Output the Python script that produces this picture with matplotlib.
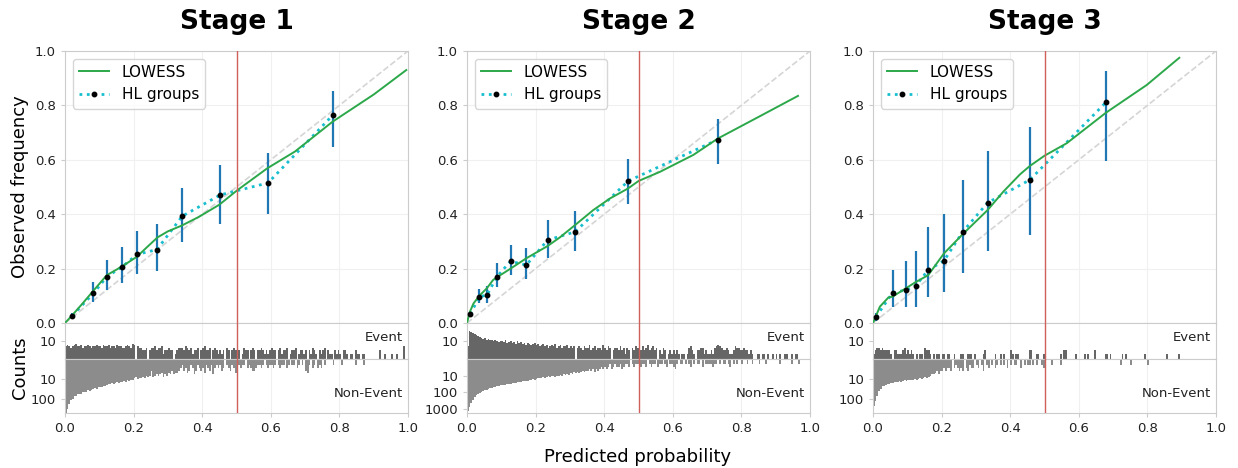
import numpy as np
import matplotlib.pyplot as plt
from matplotlib.lines import Line2D

stages = ["Stage 1", "Stage 2", "Stage 3"]

# LOWESS curves
lowess_x1 = [0.0, 0.02, 0.05, 0.083, 0.122, 0.165, 0.21, 0.24, 0.27, 0.30, 0.34, 0.39, 0.45, 0.50, 0.59, 0.67, 0.78, 0.90, 0.995]
lowess_y1 = [0.0, 0.027, 0.07, 0.119, 0.176, 0.207, 0.244, 0.28, 0.315, 0.337, 0.358, 0.39, 0.435, 0.486, 0.569, 0.63, 0.74, 0.84, 0.93]
lowess_x2 = [0.0, 0.008, 0.019, 0.036, 0.058, 0.076, 0.087, 0.106, 0.127, 0.173, 0.235, 0.271, 0.315, 0.368, 0.417, 0.47, 0.50, 0.563, 0.66, 0.731, 0.855, 0.965]
lowess_y2 = [0.0, 0.04, 0.072, 0.1, 0.128, 0.158, 0.168, 0.183, 0.2, 0.238, 0.283, 0.315, 0.36, 0.415, 0.458, 0.495, 0.522, 0.556, 0.618, 0.678, 0.761, 0.835]
lowess_x3 = [0.0, 0.02, 0.045, 0.057, 0.095, 0.124, 0.161, 0.207, 0.262, 0.334, 0.38, 0.429, 0.457, 0.50, 0.565, 0.679, 0.798, 0.893]
lowess_y3 = [0.0, 0.06, 0.094, 0.097, 0.127, 0.15, 0.176, 0.256, 0.327, 0.415, 0.483, 0.547, 0.577, 0.615, 0.661, 0.773, 0.875, 0.975]

# Hosmer-Lemeshow groups: mean predicted, observed, CI low, CI high
hl_x1 = [0.021, 0.083, 0.122, 0.165, 0.210, 0.268, 0.342, 0.453, 0.592, 0.782]
hl_y1 = [0.027, 0.109, 0.170, 0.205, 0.252, 0.270, 0.393, 0.471, 0.515, 0.766]
hl_lo1 = [0.018, 0.076, 0.121, 0.146, 0.180, 0.191, 0.297, 0.363, 0.401, 0.648]
hl_hi1 = [0.036, 0.150, 0.232, 0.278, 0.338, 0.364, 0.496, 0.580, 0.626, 0.853]
hl_x2 = [0.010, 0.036, 0.058, 0.087, 0.127, 0.173, 0.235, 0.315, 0.470, 0.731]
hl_y2 = [0.033, 0.097, 0.102, 0.170, 0.227, 0.213, 0.305, 0.335, 0.522, 0.674]
hl_lo2 = [0.027, 0.072, 0.072, 0.131, 0.176, 0.161, 0.238, 0.263, 0.439, 0.586]
hl_hi2 = [0.040, 0.124, 0.136, 0.219, 0.287, 0.275, 0.378, 0.412, 0.603, 0.749]
hl_x3 = [0.009, 0.057, 0.095, 0.124, 0.161, 0.207, 0.262, 0.334, 0.457, 0.679]
hl_y3 = [0.023, 0.111, 0.121, 0.136, 0.195, 0.229, 0.336, 0.442, 0.526, 0.811]
hl_lo3 = [0.008, 0.060, 0.058, 0.060, 0.096, 0.113, 0.185, 0.265, 0.322, 0.597]
hl_hi3 = [0.035, 0.195, 0.228, 0.265, 0.352, 0.401, 0.526, 0.634, 0.719, 0.926]

# histogram counts, 200 bins of width 0.005
event1 = [4, 5, 4, 3, 4, 5, 6, 4, 4, 5, 3, 4, 4, 5, 4, 3, 4, 4, 5, 4,
          4, 3, 5, 4, 4, 5, 3, 4, 4, 3, 5, 4, 4, 3, 3, 4, 5, 4, 3, 6,
          5, 0, 4, 3, 3, 2, 2, 3, 0, 2, 3, 3, 4, 2, 3, 3, 4, 1, 2, 2,
          3, 2, 2, 0, 1, 2, 3, 3, 3, 2, 4, 3, 2, 3, 1, 2, 2, 3, 0, 2,
          3, 4, 2, 2, 3, 0, 2, 3, 2, 1, 2, 1, 2, 0, 3, 2, 0, 2, 3, 2,
          2, 2, 0, 1, 3, 2, 2, 0, 2, 3, 2, 0, 2, 2, 3, 2, 1, 2, 1, 2,
          3, 2, 2, 0, 2, 3, 1, 2, 2, 3, 0, 1, 2, 2, 3, 0, 1, 2, 2, 1,
          2, 0, 2, 1, 3, 2, 1, 0, 2, 1, 2, 3, 0, 2, 1, 1, 0, 2, 1, 2,
          1, 0, 2, 2, 1, 0, 1, 1, 0, 2, 1, 1, 0, 1, 1, 0, 0, 0, 0, 0,
          0, 0, 0, 2, 0, 0, 1, 0, 0, 0, 1, 0, 0, 1, 0, 0, 0, 4, 0, 0]
nonevent1 = [540, 340, 190, 115, 100, 75, 70, 60, 58, 55, 46, 48, 44, 38, 40, 36, 31, 30, 32, 25,
             24, 25, 23, 22, 20, 17, 18, 16, 17, 15, 14, 15, 13, 14, 12, 13, 11, 12, 11, 10,
             8, 7, 9, 8, 8, 7, 8, 6, 7, 6, 3, 7, 6, 5, 6, 5, 4, 7, 5, 6,
             4, 5, 3, 5, 4, 4, 3, 2, 1, 3, 2, 4, 3, 1, 2, 5, 3, 1, 2, 3,
             2, 4, 1, 2, 3, 1, 5, 2, 1, 2, 1, 3, 2, 0, 1, 2, 3, 1, 2, 4,
             2, 1, 2, 1, 1, 0, 2, 1, 2, 3, 3, 2, 1, 1, 2, 1, 0, 1, 2, 1,
             1, 2, 1, 0, 1, 2, 1, 1, 0, 2, 1, 0, 1, 1, 0, 2, 1, 0, 1, 0,
             3, 4, 1, 0, 2, 1, 0, 2, 1, 2, 0, 1, 0, 0, 0, 0, 1, 0, 0, 0,
             0, 1, 0, 0, 0, 0, 0, 0, 0, 1, 0, 0, 0, 0, 1, 0, 0, 0, 0, 0,
             0, 0, 0, 0, 0, 0, 0, 0, 0, 0, 0, 0, 0, 0, 0, 0, 0, 0, 0, 0]
event2 = [4, 35, 32, 26, 24, 20, 17, 15, 14, 12, 13, 11, 12, 10, 11, 9, 10, 9, 8, 9,
          9, 8, 10, 7, 8, 9, 7, 8, 6, 9, 7, 8, 6, 7, 5, 7, 6, 5, 6, 7,
          5, 6, 4, 5, 6, 4, 5, 3, 4, 5, 4, 6, 3, 4, 5, 3, 4, 4, 5, 3,
          4, 3, 4, 0, 3, 4, 3, 2, 4, 3, 3, 5, 2, 3, 4, 2, 3, 3, 2, 5,
          3, 2, 4, 3, 0, 2, 3, 3, 2, 4, 2, 3, 1, 3, 2, 0, 3, 2, 4, 3,
          3, 2, 4, 2, 3, 5, 2, 3, 4, 2, 3, 0, 2, 1, 3, 2, 0, 1, 2, 1,
          2, 1, 2, 1, 0, 1, 1, 0, 1, 3, 4, 2, 1, 0, 2, 2, 3, 3, 1, 2,
          1, 1, 2, 1, 3, 4, 5, 4, 3, 2, 2, 3, 2, 1, 1, 2, 4, 3, 3, 2,
          2, 3, 2, 2, 1, 2, 1, 0, 0, 1, 1, 0, 1, 1, 0, 1, 0, 0, 1, 0,
          1, 0, 1, 0, 0, 1, 1, 0, 0, 1, 0, 1, 1, 0, 0, 0, 0, 0, 0, 0]
nonevent2 = [1350, 740, 470, 300, 190, 150, 120, 105, 95, 80, 72, 70, 62, 58, 55, 50, 45, 42, 40, 38,
             36, 34, 35, 30, 31, 29, 28, 26, 27, 24, 22, 23, 21, 20, 19, 20, 18, 17, 16, 17,
             14, 13, 12, 13, 11, 12, 11, 10, 11, 10, 9, 11, 10, 9, 8, 9, 7, 8, 7, 8,
             6, 7, 5, 6, 5, 6, 5, 4, 5, 4, 4, 3, 4, 3, 5, 3, 4, 3, 2, 3,
             2, 3, 2, 1, 3, 2, 1, 2, 2, 1, 3, 2, 1, 1, 2, 0, 1, 2, 1, 1,
             1, 2, 1, 1, 2, 0, 1, 2, 1, 1, 0, 2, 1, 1, 0, 1, 2, 0, 1, 1,
             2, 3, 1, 0, 1, 1, 0, 1, 0, 1, 2, 0, 1, 0, 1, 1, 0, 2, 0, 1,
             1, 1, 1, 2, 1, 1, 0, 1, 0, 1, 1, 0, 1, 2, 0, 1, 0, 1, 0, 0,
             1, 0, 0, 1, 0, 0, 1, 0, 0, 0, 1, 0, 0, 0, 1, 0, 0, 0, 0, 0,
             0, 0, 1, 0, 0, 0, 0, 0, 0, 1, 0, 0, 0, 1, 0, 0, 0, 0, 0, 0]
event3 = [1, 2, 3, 3, 2, 3, 2, 2, 2, 2, 1, 0, 2, 2, 1, 1, 1, 2, 3, 1,
          2, 1, 2, 1, 0, 1, 0, 1, 1, 0, 3, 2, 2, 1, 0, 1, 0, 1, 1, 0,
          1, 1, 0, 1, 1, 0, 0, 1, 0, 0, 0, 1, 1, 0, 0, 1, 1, 1, 0, 1,
          0, 0, 0, 0, 1, 2, 0, 0, 0, 0, 0, 1, 0, 0, 1, 0, 1, 0, 0, 0,
          2, 1, 0, 1, 1, 0, 0, 0, 0, 0, 0, 2, 2, 0, 0, 1, 1, 0, 0, 1,
          0, 0, 0, 0, 0, 0, 0, 0, 0, 1, 0, 2, 2, 0, 0, 0, 0, 0, 1, 0,
          0, 0, 0, 1, 0, 1, 0, 0, 0, 2, 0, 0, 0, 0, 0, 1, 1, 0, 1, 0,
          0, 0, 0, 0, 0, 1, 0, 1, 0, 0, 0, 0, 0, 0, 0, 0, 0, 0, 1, 0,
          0, 0, 0, 0, 0, 0, 0, 0, 0, 0, 0, 1, 0, 0, 0, 0, 0, 0, 1, 0,
          0, 0, 0, 0, 0, 0, 0, 0, 0, 0, 0, 0, 0, 0, 0, 0, 0, 0, 0, 0]
nonevent3 = [230, 125, 70, 42, 31, 23, 21, 19, 17, 18, 16, 15, 14, 13, 14, 12, 13, 12, 11, 12,
             11, 10, 11, 10, 9, 10, 9, 8, 9, 8, 7, 8, 7, 6, 5, 5, 4, 3, 5, 3,
             3, 2, 3, 2, 2, 3, 0, 2, 1, 2, 3, 2, 3, 0, 2, 3, 1, 2, 2, 0,
             1, 2, 0, 1, 3, 0, 1, 2, 0, 1, 0, 2, 1, 0, 1, 0, 1, 0, 2, 0,
             1, 0, 1, 1, 0, 0, 2, 0, 1, 0, 1, 1, 0, 1, 0, 1, 0, 0, 1, 2,
             0, 0, 0, 0, 1, 0, 0, 0, 0, 1, 0, 0, 0, 0, 0, 0, 0, 0, 0, 0,
             0, 0, 0, 0, 0, 0, 0, 0, 0, 0, 0, 0, 0, 0, 0, 0, 0, 0, 0, 0,
             0, 0, 0, 0, 1, 0, 0, 0, 0, 0, 1, 0, 0, 0, 0, 0, 0, 0, 0, 0,
             1, 0, 0, 0, 0, 0, 0, 0, 0, 0, 0, 0, 0, 0, 0, 0, 0, 0, 0, 0,
             0, 0, 0, 0, 0, 0, 0, 0, 0, 0, 0, 0, 0, 0, 0, 0, 0, 0, 0, 0]

panels = [
    (lowess_x1, lowess_y1, hl_x1, hl_y1, hl_lo1, hl_hi1, event1, nonevent1, 2.73, [10, 100]),
    (lowess_x2, lowess_y2, hl_x2, hl_y2, hl_lo2, hl_hi2, event2, nonevent2, 3.25, [10, 100, 1000]),
    (lowess_x3, lowess_y3, hl_x3, hl_y3, hl_lo3, hl_hi3, event3, nonevent3, 2.73, [10, 100]),
]

spine_col = "#cccccc"
grid_col = "#f0f0f0"
red = "#d0605a"
W, H = 1238, 468
fig = plt.figure(figsize=(W / 100, H / 100), dpi=100)

lefts = [65, 467, 873]
edges = np.linspace(0, 1, 201)[:-1]

def style(ax):
    for s in ax.spines.values():
        s.set_color(spine_col)
    ax.tick_params(colors=spine_col, labelcolor="#222222", labelsize=9.5, length=3)
    ax.set_xlim(0, 1)

for i, (lx, ly, hx, hy, hlo, hhi, ev, nev, low_lim, nticks) in enumerate(panels):
    left = lefts[i] / W
    wid = 343 / W
    ax = fig.add_axes([left, 1 - 323 / H, wid, 272 / H])
    axu = fig.add_axes([left, 1 - 359 / H, wid, 36 / H])
    axl = fig.add_axes([left, 1 - 413 / H, wid, 54 / H])
    for a in (ax, axu, axl):
        style(a)
        a.set_axisbelow(True)
        a.axvline(0.5, color=red, lw=1.0, zorder=5)

    # calibration part
    ax.set_ylim(0, 1)
    ax.set_xticks(np.arange(0, 1.01, 0.2))
    ax.set_yticks(np.arange(0, 1.01, 0.2))
    ax.set_xticklabels([])
    ax.grid(True, color=grid_col, lw=0.8)
    ax.plot([0, 1], [0, 1], ls="--", color="#d5d5d5", lw=1.2, zorder=1)
    ax.errorbar(hx, hy, yerr=[np.array(hy) - np.array(hlo), np.array(hhi) - np.array(hy)],
                fmt="none", ecolor="#1f77b4", elinewidth=1.6, zorder=2)
    ax.plot(hx, hy, ls=":", color="#17becf", lw=2.0, zorder=3)
    ax.plot(lx, ly, color="#2ca84a", lw=1.4, zorder=4)
    ax.plot(hx, hy, ls="none", marker="o", ms=3.2, color="black", zorder=6)
    ax.set_title(stages[i], fontsize=19, fontweight="bold", pad=16)
    handles = [Line2D([], [], color="#2ca84a", lw=1.4),
               Line2D([], [], color="#17becf", ls=":", lw=2.0, marker="o", ms=3.2,
                      mfc="black", mec="black")]
    leg = ax.legend(handles, ["LOWESS", "HL groups"], loc="upper left", fontsize=11,
                    frameon=True, fancybox=True, handlelength=2.0, handletextpad=0.8,
                    borderaxespad=0.5)
    leg.get_frame().set_edgecolor("#cccccc")

    # histograms, log10(1 + count) heights
    axu.bar(edges, np.log10(1 + np.array(ev)), width=0.005, align="edge",
            color="#666666", lw=0, antialiased=False)
    axu.set_ylim(0, 2)
    axu.set_yticks([1])
    axu.set_yticklabels(["10"])
    axu.set_xticks(np.arange(0, 1.01, 0.2))
    axu.set_xticklabels([])
    axu.tick_params(axis="x", length=0)
    axu.grid(True, axis="x", color=grid_col, lw=0.8)
    axu.text(0.985, 0.6, "Event", transform=axu.transAxes, ha="right", va="center",
             fontsize=9.5, color="#222222")

    axl.bar(edges, -np.log10(1 + np.array(nev)), width=0.005, align="edge",
            color="#8c8c8c", lw=0, antialiased=False)
    axl.set_ylim(-low_lim, 0)
    axl.set_yticks([-np.log10(t) for t in nticks])
    axl.set_yticklabels([str(t) for t in nticks])
    axl.set_xticks(np.arange(0, 1.01, 0.2))
    axl.set_xticklabels(["0.0", "0.2", "0.4", "0.6", "0.8", "1.0"])
    axl.grid(True, axis="x", color=grid_col, lw=0.8)
    axl.text(0.985, 0.37, "Non-Event", transform=axl.transAxes, ha="right", va="center",
             fontsize=9.5, color="#222222")

    if i == 0:
        ax.set_ylabel("Observed frequency", fontsize=13)
        fig.text(20 / W, 1 - 368 / H, "Counts", rotation=90, fontsize=13,
                 ha="center", va="center")

fig.text(638 / W, 1 - 457 / H, "Predicted probability", fontsize=13,
         ha="center", va="center")

fig.savefig("out.png", dpi=100)
